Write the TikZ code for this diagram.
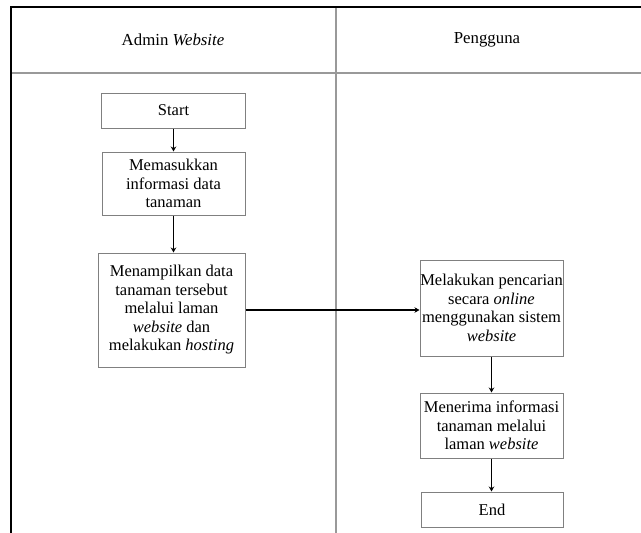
\documentclass[tikz,border=0pt]{standalone}
\usepackage{fontspec}
\setmainfont{Liberation Serif}
\usetikzlibrary{arrows.meta,calc}
\tikzset{
  procbox/.style={draw=black!50, line width=1pt, align=center, inner sep=0pt,
    font=\fontsize{16.5}{18.5}\selectfont},
  flow/.style={-{Stealth[length=5pt,width=5.5pt]}, line width=1.6pt, black},
  lane/.style={font=\fontsize{16.8}{18.5}\selectfont},
}
\begin{document}
\begin{tikzpicture}[x=1pt,y=-1pt]
  \useasboundingbox (0,0) rectangle (641,533);
  % swimlane frame
  \draw[black!40, line width=2pt] (11,73) -- (641,73);
  \draw[black!40, line width=1.8pt] (336,7) -- (336,533);
  \draw[black, line width=2pt] (641,7) -- (11,7) -- (11,533);
  % lane titles
  \node[lane] (laneA) at (173,40) {Admin \textit{Website}};
  \node[lane] (laneB) at (487,40) {Pengguna};
  % admin lane
  \node[procbox, minimum width=144, minimum height=35] (start) at (173.5,110.5) {Start};
  \node[procbox, minimum width=143, minimum height=63] (input) at (173.5,183.5)
    {Memasukkan\\informasi data\\tanaman};
  \node[procbox, minimum width=147, minimum height=114] (show) at (171.5,310)
    {Menampilkan data\\tanaman tersebut\\melalui laman\\\textit{website} dan\\melakukan \textit{hosting}};
  % user lane
  \node[procbox, minimum width=143, minimum height=96] (search) at (491.5,308)
    {Melakukan pencarian\\secara \textit{online}\\menggunakan sistem\\\textit{website}};
  \node[procbox, minimum width=143, minimum height=65] (receive) at (491.5,425.5)
    {Menerima informasi\\tanaman melalui\\laman \textit{website}};
  \node[procbox, minimum width=142, minimum height=35] (finish) at (492,509.5) {End};
  % connectors
  \draw[flow] (start.south) -- (start.south |- input.north);
  \draw[flow] (input.south) -- (input.south |- show.north);
  \draw[flow] (show.east) -- (show.east -| search.west);
  \draw[flow] (search.south) -- (search.south |- receive.north);
  \draw[flow] (receive.south) -- (receive.south |- finish.north);
\end{tikzpicture}
\end{document}
